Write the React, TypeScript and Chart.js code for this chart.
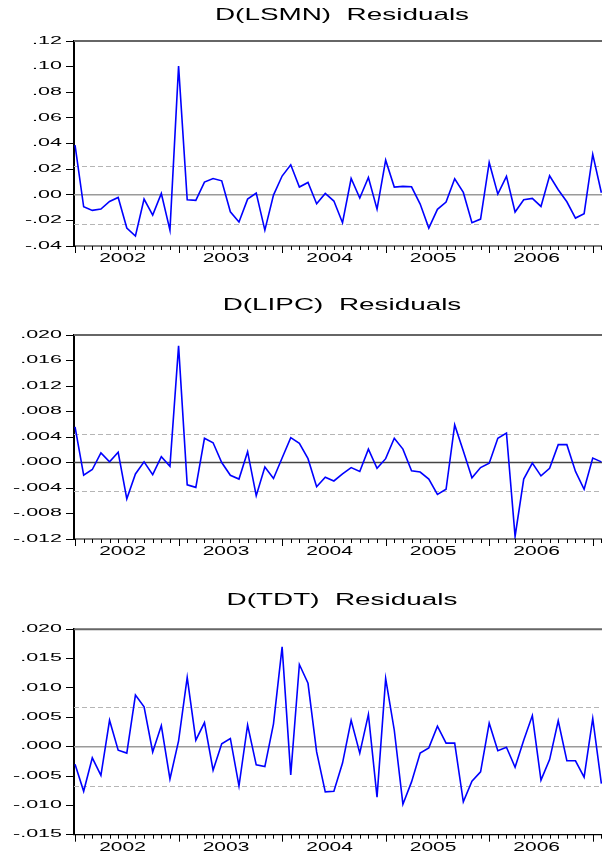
import React, { useEffect, useRef } from 'react';
import { Chart, registerables } from 'chart.js';

Chart.register(...registerables);

// ---------- data ----------
const YEARS = ['2002', '2003', '2004', '2005', '2006'];

const LSMN_RESID = [
  0.0388, -0.0094, -0.0122, -0.0112, -0.0052, -0.0021, -0.026, -0.0322, -0.0034, -0.0159, 0.001, -0.0276,
  0.1004, -0.0039, -0.0044, 0.0099, 0.0127, 0.0109, -0.0133, -0.0213, -0.0034, 0.0013, -0.0276, -0.0003,
  0.0146, 0.0234, 0.006, 0.0096, -0.007, 0.001, -0.0049, -0.0218, 0.0127, -0.0026, 0.0135, -0.0112,
  0.027, 0.006, 0.0065, 0.0062, -0.0073, -0.026, -0.0114, -0.0057, 0.0125, 0.0018, -0.0218, -0.019,
  0.0252, 0.0005, 0.0143, -0.0135, -0.0039, -0.0029, -0.0091, 0.0148, 0.0039, -0.0055, -0.0182, -0.0148,
  0.0315, 0.0016,
];

const LIPC_RESID = [
  0.0056, -0.002, -0.0011, 0.0015, 0.0001, 0.0016, -0.0057, -0.0018, 0.0001, -0.0019, 0.0009, -0.0006,
  0.0183, -0.0035, -0.0039, 0.0038, 0.0031, 0.0, -0.002, -0.0026, 0.0017, -0.0052, -0.0007, -0.0025,
  0.0007, 0.0039, 0.003, 0.0006, -0.0038, -0.0023, -0.0029, -0.0018, -0.0008, -0.0014, 0.0021, -0.0009,
  0.0006, 0.0038, 0.0021, -0.0013, -0.0015, -0.0026, -0.005, -0.0042, 0.0059, 0.0018, -0.0024, -0.0008,
  -0.0001, 0.0038, 0.0046, -0.0116, -0.0026, -0.0001, -0.0021, -0.0009, 0.0028, 0.0028, -0.0014, -0.0042,
  0.0007, 0.0001,
];

const TDT_RESID = [
  -0.003, -0.0076, -0.0019, -0.0049, 0.0045, -0.0006, -0.0011, 0.0088, 0.0068, -0.0009, 0.0036, -0.0055,
  0.001, 0.0118, 0.0011, 0.0041, -0.004, 0.0005, 0.0014, -0.0067, 0.0037, -0.0031, -0.0034, 0.0039,
  0.017, -0.0048, 0.014, 0.0108, -0.0009, -0.0077, -0.0076, -0.0028, 0.0045, -0.0011, 0.0055, -0.0086,
  0.0116, 0.0028, -0.0098, -0.006, -0.0011, -0.0002, 0.0035, 0.0006, 0.0006, -0.0094, -0.0059, -0.0043,
  0.004, -0.0007, -0.0001, -0.0035, 0.0011, 0.0053, -0.0057, -0.0022, 0.0044, -0.0024, -0.0024, -0.0052,
  0.0048, -0.0063,
];

const LSMN_SD = 0.0228;
const LIPC_SD = 0.0044;
const TDT_SD = 0.0067;

// ---------- layout / style ----------
const FONT = "'Liberation Sans', Arial, sans-serif";
const CANVAS_W = 620;

type Panel = {
  title: string;
  values: number[];
  sd: number;
  min: number;
  max: number;
  step: number;
  dec: number;
  top: number;
  height: number;
  padTop: number;
  padBottom: number;
  titleY: number;
  zeroColor: string;
};

const PANELS: Panel[] = [
  { title: 'D(LSMN)  Residuals', values: LSMN_RESID, sd: LSMN_SD, min: -0.04, max: 0.12, step: 0.02, dec: 2,
    top: 0, height: 290, padTop: 41, padBottom: 44, titleY: 15.5, zeroColor: '#9a9a9a' },
  { title: 'D(LIPC)  Residuals', values: LIPC_RESID, sd: LIPC_SD, min: -0.012, max: 0.02, step: 0.004, dec: 3,
    top: 290, height: 290, padTop: 45, padBottom: 41, titleY: 15, zeroColor: '#444444' },
  { title: 'D(TDT)  Residuals', values: TDT_RESID, sd: TDT_SD, min: -0.015, max: 0.02, step: 0.005, dec: 3,
    top: 580, height: 275, padTop: 49.3, padBottom: 20.3, titleY: 20, zeroColor: '#9a9a9a' },
];

function fmt(v: number, dec: number) {
  let s = Math.abs(v) < 1e-9 ? (0).toFixed(dec) : v.toFixed(dec);
  s = s.replace(/^(-?)0\./, '$1.');
  return s;
}

function drawStretched(ctx: CanvasRenderingContext2D, text: string, x: number, y: number,
  align: 'left' | 'center' | 'right', font: string, sx: number) {
  ctx.save();
  ctx.font = font;
  ctx.textBaseline = 'middle';
  ctx.textAlign = 'left';
  ctx.fillStyle = '#000';
  const w = ctx.measureText(text).width * sx;
  const left = align === 'center' ? x - w / 2 : align === 'right' ? x - w : x;
  ctx.translate(left, y);
  ctx.scale(sx, 1);
  ctx.fillText(text, 0, 0);
  ctx.restore();
}

const eviewsPlugin = {
  id: 'eviews',
  beforeDatasetsDraw(chart: any, _args: any, opts: any) {
    const { ctx, chartArea: a, scales } = chart;
    const y = scales.y;
    ctx.save();
    ctx.beginPath();
    ctx.rect(a.left, a.top, a.right - a.left, a.bottom - a.top);
    ctx.clip();
    ctx.strokeStyle = '#b5b5b5';
    ctx.lineWidth = 1;
    ctx.setLineDash([5, 3]);
    for (const v of [opts.sd, -opts.sd]) {
      const py = Math.round(y.getPixelForValue(v)) + 0.5;
      ctx.beginPath();
      ctx.moveTo(a.left, py);
      ctx.lineTo(a.right, py);
      ctx.stroke();
    }
    ctx.setLineDash([]);
    ctx.strokeStyle = opts.zeroColor;
    ctx.lineWidth = 1.5;
    const pz = y.getPixelForValue(0);
    ctx.beginPath();
    ctx.moveTo(a.left, pz);
    ctx.lineTo(a.right, pz);
    ctx.stroke();
    ctx.restore();
  },
  afterDraw(chart: any, _args: any, opts: any) {
    const { ctx, chartArea: a, scales } = chart;
    const x = scales.x;
    const y = scales.y;
    ctx.save();
    // top border
    ctx.strokeStyle = '#666';
    ctx.lineWidth = 2;
    ctx.beginPath();
    ctx.moveTo(a.left, a.top);
    ctx.lineTo(a.right, a.top);
    ctx.stroke();
    // bottom axis
    ctx.strokeStyle = '#000';
    ctx.lineWidth = 1.2;
    ctx.beginPath();
    ctx.moveTo(a.left - 1, a.bottom);
    ctx.lineTo(a.right, a.bottom);
    ctx.stroke();
    // monthly ticks
    ctx.lineWidth = 1;
    const n = opts.count;
    for (let i = 0; i < n; i++) {
      const px = Math.round(x.getPixelForValue(i)) + 0.5;
      const len = i % 12 === 0 ? 7 : 4;
      ctx.beginPath();
      ctx.moveTo(px, a.bottom);
      ctx.lineTo(px, a.bottom + len);
      ctx.stroke();
    }
    ctx.restore();
    // year labels
    YEARS.forEach((yr, k) => {
      const px = x.getPixelForValue(k * 12 + 5.5);
      drawStretched(ctx, yr, px, a.bottom + 12.5, 'center', `12.5px ${FONT}`, 1.68);
    });
    // y labels
    for (const t of y.ticks) {
      const py = y.getPixelForValue(t.value);
      drawStretched(ctx, fmt(t.value, opts.dec), 62, py, 'right', `10px ${FONT}`, 2.15);
    }
    // title
    drawStretched(ctx, opts.title, 342, opts.titleY, 'center', `17px ${FONT}`, 1.64);
  },
};

function ResidChart({ panel }: { panel: Panel }) {
  const ref = useRef<HTMLCanvasElement | null>(null);
  useEffect(() => {
    if (!ref.current) return;
    const data = panel.values.map((v, i) => ({ x: i, y: v }));
    const chart = new Chart(ref.current, {
      type: 'line',
      data: {
        datasets: [{
          data,
          borderColor: '#0000ff',
          borderWidth: 1.6,
          pointRadius: 0,
          tension: 0,
          fill: false,
        }],
      },
      options: {
        responsive: false,
        animation: false,
        events: [],
        layout: { padding: { top: panel.padTop, bottom: panel.padBottom, left: 0, right: CANVAS_W - 610 } },
        plugins: {
          legend: { display: false },
          title: { display: false },
          tooltip: { enabled: false },
          eviews: { sd: panel.sd, zeroColor: panel.zeroColor, count: panel.values.length, dec: panel.dec,
            title: panel.title, titleY: panel.titleY },
        } as any,
        scales: {
          x: { type: 'linear', display: false, min: -0.12, max: 62 },
          y: {
            type: 'linear',
            min: panel.min,
            max: panel.max,
            afterFit: (s: any) => { s.width = 74; },
            ticks: { stepSize: panel.step, display: false },
            grid: { drawOnChartArea: false, drawTicks: true, tickLength: 8, color: '#000', lineWidth: 1 },
            border: { display: true, color: '#000', width: 2 },
          },
        },
      },
      plugins: [eviewsPlugin],
    });
    return () => chart.destroy();
  }, [panel]);
  return (
    <canvas ref={ref} width={CANVAS_W} height={panel.height}
      style={{ position: 'absolute', left: 0, top: panel.top, width: CANVAS_W, height: panel.height }} />
  );
}

export default function App() {
  return (
    <div style={{ position: 'fixed', left: 0, top: 0, width: 602, height: 855, overflow: 'hidden', background: '#fff' }}>
      {PANELS.map((p) => <ResidChart key={p.title} panel={p} />)}
    </div>
  );
}
